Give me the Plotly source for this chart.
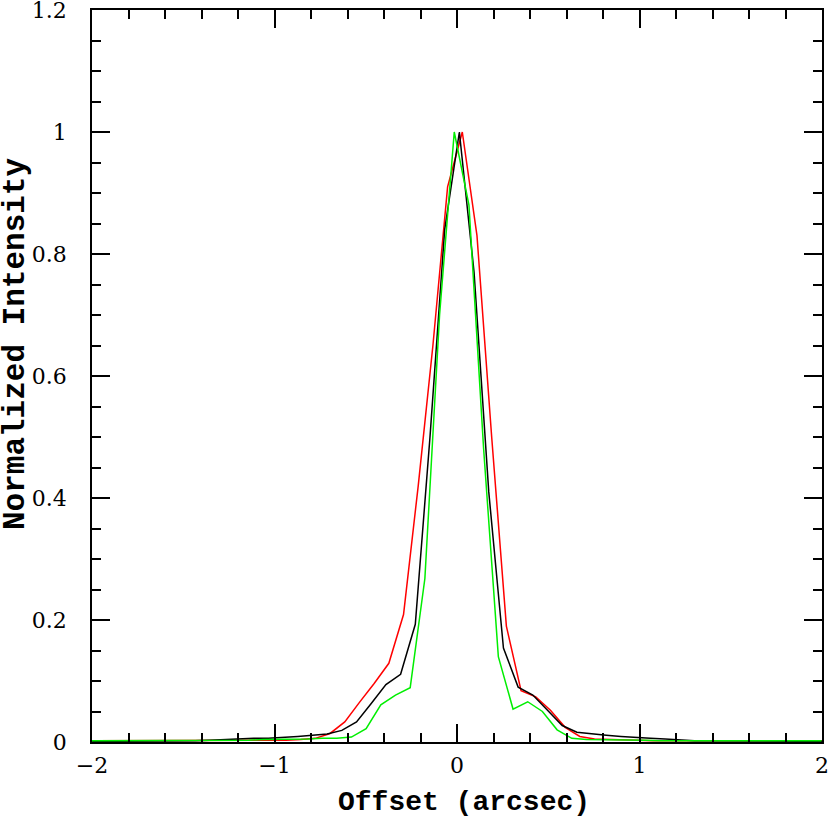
import plotly.graph_objects as go

STEP = 0.0805
K = list(range(-25, 26))

# peak positions (offset of the sample grid) per curve
red_peak = 0.029
black_peak = 0.013
green_peak = -0.015

red_y = [0.002, 0.002, 0.002, 0.002, 0.002, 0.002, 0.002, 0.002, 0.002, 0.002,
         0.002, 0.002, 0.003, 0.003, 0.004, 0.006, 0.014, 0.033, 0.065, 0.096,
         0.129, 0.209, 0.42, 0.65, 0.91, 1.0, 0.83, 0.50, 0.19, 0.084,
         0.074, 0.052, 0.024, 0.009, 0.005, 0.004, 0.003, 0.003, 0.002, 0.002,
         0.002, 0.002, 0.002, 0.002, 0.002, 0.002, 0.003, 0.003, 0.002, 0.002,
         0.001]

black_y = [0.001, 0.001, 0.001, 0.001, 0.001, 0.001, 0.002, 0.002, 0.003, 0.004,
           0.006, 0.006, 0.006, 0.007, 0.009, 0.011, 0.013, 0.019, 0.033, 0.063,
           0.094, 0.111, 0.193, 0.50, 0.84, 1.0, 0.77, 0.41, 0.154, 0.090,
           0.077, 0.052, 0.027, 0.016, 0.013, 0.011, 0.009, 0.007, 0.006, 0.005,
           0.003, 0.002, 0.002, 0.002, 0.001, 0.001, 0.001, 0.001, 0.001, 0.001,
           0.001]

green_y = [0.002, 0.002, 0.002, 0.002, 0.003, 0.003, 0.003, 0.003, 0.003, 0.003,
           0.003, 0.003, 0.004, 0.004, 0.004, 0.005, 0.006, 0.006, 0.008, 0.022,
           0.061, 0.077, 0.089, 0.268, 0.70, 1.0, 0.88, 0.48, 0.14, 0.054,
           0.066, 0.050, 0.020, 0.006, 0.004, 0.004, 0.003, 0.003, 0.003, 0.002,
           0.002, 0.002, 0.002, 0.002, 0.002, 0.002, 0.002, 0.002, 0.002, 0.002,
           0.002]

x_title = "Offset (arcsec)"
y_title = "Normalized Intensity"


def grid(peak):
    return [peak + STEP * k for k in K]


fig = go.Figure()
for xs, ys, col in [(grid(red_peak), red_y, "#ff0000"),
                    (grid(black_peak), black_y, "#000000"),
                    (grid(green_peak), green_y, "#00ee00")]:
    fig.add_trace(go.Scatter(x=xs, y=ys, mode="lines",
                             line=dict(color=col, width=1.5), showlegend=False))

serif = "DejaVu Serif, Liberation Serif, serif"
mono = "Liberation Mono, DejaVu Sans Mono, monospace"
axis_common = dict(
    showgrid=False, zeroline=False, showline=True, linecolor="black", linewidth=1.5,
    mirror="allticks", ticks="inside", tickcolor="black", tickwidth=1.5,
    ticklen=18, tickfont=dict(family=serif, size=22, color="black"),
    automargin=False, ticklabeloverflow="allow",
)

fig.update_xaxes(
    range=[-2, 2], tickvals=[-2, -1, 0, 1, 2], ticktext=["−2", "−1", "0", "1", "2"],
    minor=dict(dtick=0.2, ticks="inside", ticklen=9, tickcolor="black", tickwidth=1.5),
    ticklabelstandoff=3,
    **axis_common,
)
fig.update_yaxes(
    range=[0, 1.2], tickvals=[0, 0.2, 0.4, 0.6, 0.8, 1.0, 1.2],
    ticktext=["0", "0.2", "0.4", "0.6", "0.8", "1", "1.2"],
    minor=dict(dtick=0.05, ticks="inside", ticklen=9, tickcolor="black", tickwidth=1.5),
    ticklabelstandoff=19,
    **axis_common,
)

fig.add_annotation(text="<b>" + x_title + "</b>", xref="paper", yref="paper",
                   x=0.5096, y=-0.0833, xanchor="center", yanchor="middle",
                   showarrow=False, font=dict(family=mono, size=28, color="black"))
fig.add_annotation(text="<b>" + y_title + "</b>", xref="paper", yref="paper",
                   x=-0.1055, y=0.5437, xanchor="center", yanchor="middle", textangle=-90,
                   showarrow=False, font=dict(family=mono, size=31, color="black"))

fig.update_layout(
    width=830, height=820,
    margin=dict(l=92, r=8, t=10, b=78),
    paper_bgcolor="white", plot_bgcolor="white",
)

fig.write_html("out.html", config={"displayModeBar": False},
               post_script="document.body.style.margin='0';")
